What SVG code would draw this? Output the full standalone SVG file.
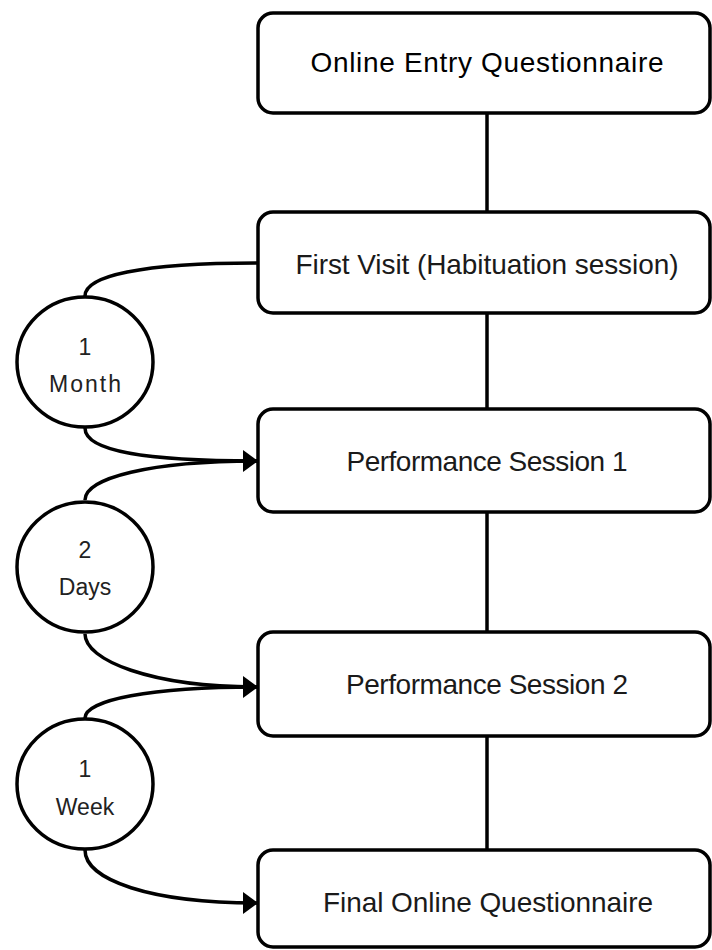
<svg xmlns="http://www.w3.org/2000/svg" width="712" height="950" viewBox="0 0 712 950">
<style>
.box{fill:#fff;stroke:#000;stroke-width:3.5}
.circ{fill:#fff;stroke:#000;stroke-width:3.5}
.lbl{font-family:"Liberation Sans",Arial,sans-serif;font-size:28px;fill:#1a1a1a;text-anchor:middle}
.clbl{font-family:"Liberation Sans",Arial,sans-serif;font-size:23px;fill:#222;text-anchor:middle}
.line{fill:none;stroke:#000;stroke-width:3.5}
</style>
<defs>
<marker id="arrow" markerUnits="userSpaceOnUse" markerWidth="16" markerHeight="22" refX="15" refY="11" orient="auto">
<path d="M0,0 L15,11 L0,22 Z" fill="#000"/>
</marker>
</defs>
<g id="connectors">
<line class="line" x1="487" y1="113" x2="487" y2="212"/>
<line class="line" x1="487" y1="313" x2="487" y2="409"/>
<line class="line" x1="487" y1="512" x2="487" y2="632"/>
<line class="line" x1="487" y1="736" x2="487" y2="850"/>
<path class="line" d="M85,296 C85,276 140,263 258,263"/>
<path class="line" d="M85,428 C85,452 150,461 258,461" marker-end="url(#arrow)"/>
<path class="line" d="M85,500 C85,478 150,461 258,461"/>
<path class="line" d="M85,634 C85,660 150,687 258,687" marker-end="url(#arrow)"/>
<path class="line" d="M85,718 C85,700 150,687 258,687"/>
<path class="line" d="M85,850 C85,880 150,903 258,903" marker-end="url(#arrow)"/>
</g>
<g id="n1">
<rect class="box" x="258" y="13" width="452" height="100" rx="15"/>
<text class="lbl" x="487" y="72" style="fill:#000" textLength="353">Online Entry Questionnaire</text>
</g>
<g id="n2">
<rect class="box" x="258" y="212" width="452" height="101" rx="15"/>
<text class="lbl" x="487" y="274" textLength="383">First Visit (Habituation session)</text>
</g>
<g id="n3">
<rect class="box" x="258" y="409" width="452" height="103" rx="15"/>
<text class="lbl" x="487" y="471" textLength="281">Performance Session 1</text>
</g>
<g id="n4">
<rect class="box" x="258" y="632" width="452" height="104" rx="15"/>
<text class="lbl" x="487" y="694" textLength="282">Performance Session 2</text>
</g>
<g id="n5">
<rect class="box" x="258" y="850" width="452" height="97" rx="15"/>
<text class="lbl" x="488" y="912" textLength="330">Final Online Questionnaire</text>
</g>
<g id="c1">
<ellipse class="circ" cx="85" cy="362" rx="68" ry="65"/>
<text class="clbl" x="85" y="355">1</text>
<text class="clbl" x="85" y="392" textLength="72">Month</text>
</g>
<g id="c2">
<ellipse class="circ" cx="85" cy="567" rx="68" ry="65"/>
<text class="clbl" x="85" y="558">2</text>
<text class="clbl" x="85" y="595">Days</text>
</g>
<g id="c3">
<ellipse class="circ" cx="85" cy="784" rx="68" ry="65"/>
<text class="clbl" x="85" y="777">1</text>
<text class="clbl" x="85" y="815">Week</text>
</g>
</svg>
